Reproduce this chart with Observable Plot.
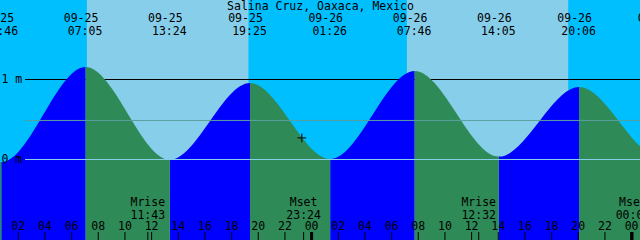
<!DOCTYPE html>
<html>
<head>
<meta charset="utf-8">
<script src="https://cdn.jsdelivr.net/npm/d3@7"></script>
<script src="https://cdn.jsdelivr.net/npm/@observablehq/plot@0.6"></script>
<style>
  html, body { margin: 0; padding: 0; background: #00BFFF; }
  #chart svg { display: block; }
</style>
</head>
<body>
<div id="chart"></div>
<script>
// ---------- data ----------
const title = "Salina Cruz, Oaxaca, Mexico";

// tide extremes (high / low)
const tideDates   = ["09-24", "09-25", "09-25", "09-25", "09-25", "09-26", "09-26", "09-26", "09-26", "09-27"];
const tideTimes   = ["18:44", "00:46", "07:05", "13:24", "19:25", "01:26", "07:46", "14:05", "20:06", "02:08"];
const tideHeights = [1.00, -0.04, 1.15, -0.01, 0.95, 0.00, 1.10, 0.03, 0.90, 0.03];

// daylight periods
const sunrises = ["09-25 07:11", "09-26 07:11"];
const sunsets  = ["09-25 19:18", "09-26 19:17"];

// moon events
const moonTimes  = ["09-25 11:43", "09-25 23:24", "09-26 12:32", "09-27 00:06"];
const moonLabels = ["Mrise", "Mset", "Mrise", "Mset"];

// hour ticks (hours since 09-25 00:00)
const hourTicks  = [2, 4, 6, 8, 10, 12, 14, 16, 18, 20, 22, 24, 26, 28, 30, 32, 34, 36, 38, 40, 42, 44, 46, 48];
const hourLabels = ["02","04","06","08","10","12","14","16","18","20","22","00","02","04","06","08","10","12","14","16","18","20","22","00"];
const midnightTicks = [24, 48];

// level lines
const levelValues = [1, 0];
const levelLabels = ["1 m", "0 m"];
const meanLevel = 0.488;

// current-time marker
const nowTime = "09-25 23:16";
const nowHeight = 0.27;

// view window
const viewStart = "09-25 00:40";
const viewHours = 48;

// ---------- helpers ----------
function toHours(stamp) {
  const [md, hm] = stamp.split(" ");
  const day = +md.split("-")[1];
  const [h, m] = hm.split(":").map(Number);
  return (day - 25) * 24 + h + m / 60;
}
const tideT = tideDates.map((d, i) => toHours(d + " " + tideTimes[i]));
const t0 = toHours(viewStart);

// tide curve: horizontal tangents at each extreme (cubic with control points at thirds)
class TideCurve {
  constructor(context) { this._context = context; }
  areaStart() { this._line = 0; }
  areaEnd() { this._line = NaN; }
  lineStart() { this._point = 0; }
  lineEnd() {
    if (this._line || (this._line !== 0 && this._point === 1)) this._context.closePath();
    this._line = 1 - this._line;
  }
  point(x, y) {
    x = +x; y = +y;
    if (this._point === 0) {
      this._point = 1;
      if (this._line) this._context.lineTo(x, y); else this._context.moveTo(x, y);
    } else {
      const dx = (x - this._x0) / 3;
      this._context.bezierCurveTo(this._x0 + dx, this._y0, x - dx, y, x, y);
      this._point = 2;
    }
    this._x0 = x; this._y0 = y;
  }
}
const tideCurve = (context) => new TideCurve(context);

// segments between consecutive extremes
const segments = [];
for (let i = 0; i < tideT.length - 1; i++) {
  const rising = tideHeights[i + 1] > tideHeights[i];
  segments.push({seg: i, rising, t: tideT[i], h: tideHeights[i]});
  segments.push({seg: i, rising, t: tideT[i + 1], h: tideHeights[i + 1]});
}
const tideIdx = d3.range(tideT.length);
const dayIdx = d3.range(sunrises.length);
const moonIdx = d3.range(moonTimes.length);
const hourIdx = d3.range(hourTicks.length);
const levelIdx = d3.range(levelValues.length);

const NIGHT = "#00BFFF", DAY = "#87CEEB", RISE = "#0000FF", FALL = "#2E8B57";
const FONT = "DejaVu Sans Mono";
const FS = 11.5;
const BOTTOM = -1.3, TOP = 2.2;

const textOpts = {fontFamily: FONT, fontSize: FS, fill: "black"};

const chart = Plot.plot({
  width: 640,
  height: 240,
  margin: 0,
  x: {domain: [t0, t0 + viewHours], range: [0, 640], axis: null},
  y: {domain: [0, 1], range: [159, 79], axis: null},
  style: {background: NIGHT, overflow: "hidden", fontFamily: FONT, fontSize: FS + "px", color: "black"},
  marks: [
    Plot.frame({fill: NIGHT, stroke: null}),
    // daylight
    Plot.rect(dayIdx, {x1: i => toHours(sunrises[i]), x2: i => toHours(sunsets[i]), y1: () => BOTTOM, y2: () => TOP, fill: DAY}),
    // 1 m line (behind the water)
    Plot.ruleY([levelValues[0]], {stroke: "black", insetLeft: 25}),
    // water
    Plot.areaY(segments.filter(d => d.rising), {x: "t", y1: () => BOTTOM, y2: "h", z: "seg", fill: RISE, curve: tideCurve}),
    Plot.areaY(segments.filter(d => !d.rising), {x: "t", y1: () => BOTTOM, y2: "h", z: "seg", fill: FALL, curve: tideCurve}),
    // mean and datum lines
    Plot.ruleY([meanLevel], {stroke: "#5a9e9e", insetLeft: 25}),
    Plot.ruleY([levelValues[1]], {stroke: "#87CEEB", insetLeft: 25}),
    // level labels
    Plot.text(levelIdx, {y: i => levelValues[i], text: i => levelLabels[i], frameAnchor: "left", textAnchor: "start", lineAnchor: "middle", dx: 1, ...textOpts}),
    // current time marker
    Plot.dot([0], {x: () => toHours(nowTime), y: () => nowHeight, symbol: "plus", r: 2.9, stroke: "black", strokeWidth: 1}),
    // title
    Plot.text([title], {text: d => d, frameAnchor: "top", lineAnchor: "top", dy: 1.3, ...textOpts}),
    // event labels
    Plot.text(tideIdx, {x: i => tideT[i], text: i => tideDates[i], frameAnchor: "top", lineAnchor: "top", dy: 13.5, dx: -5, ...textOpts}),
    Plot.text(tideIdx, {x: i => tideT[i], text: i => tideTimes[i], frameAnchor: "top", lineAnchor: "top", dy: 26.1, dx: -1, ...textOpts}),
    // moon events
    Plot.text(moonIdx, {x: i => toHours(moonTimes[i]), text: i => moonLabels[i], frameAnchor: "top", lineAnchor: "top", dy: 197.8, ...textOpts}),
    Plot.text(moonIdx, {x: i => toHours(moonTimes[i]), text: i => moonTimes[i].split(" ")[1], frameAnchor: "top", lineAnchor: "top", dy: 210.1, ...textOpts}),
    Plot.ruleX(moonIdx, {x: i => toHours(moonTimes[i]), stroke: "black", insetTop: 232}),
    // hour axis
    Plot.text(hourIdx, {x: i => hourTicks[i], text: i => hourLabels[i], frameAnchor: "top", lineAnchor: "top", dy: 221.1, ...textOpts}),
    Plot.ruleX(hourTicks, {x: d => d, stroke: "black", insetTop: 232}),
    Plot.ruleX(midnightTicks, {x: d => d, stroke: "black", strokeWidth: 3, insetTop: 232})
  ]
});
document.getElementById("chart").append(chart);
</script>
</body>
</html>
